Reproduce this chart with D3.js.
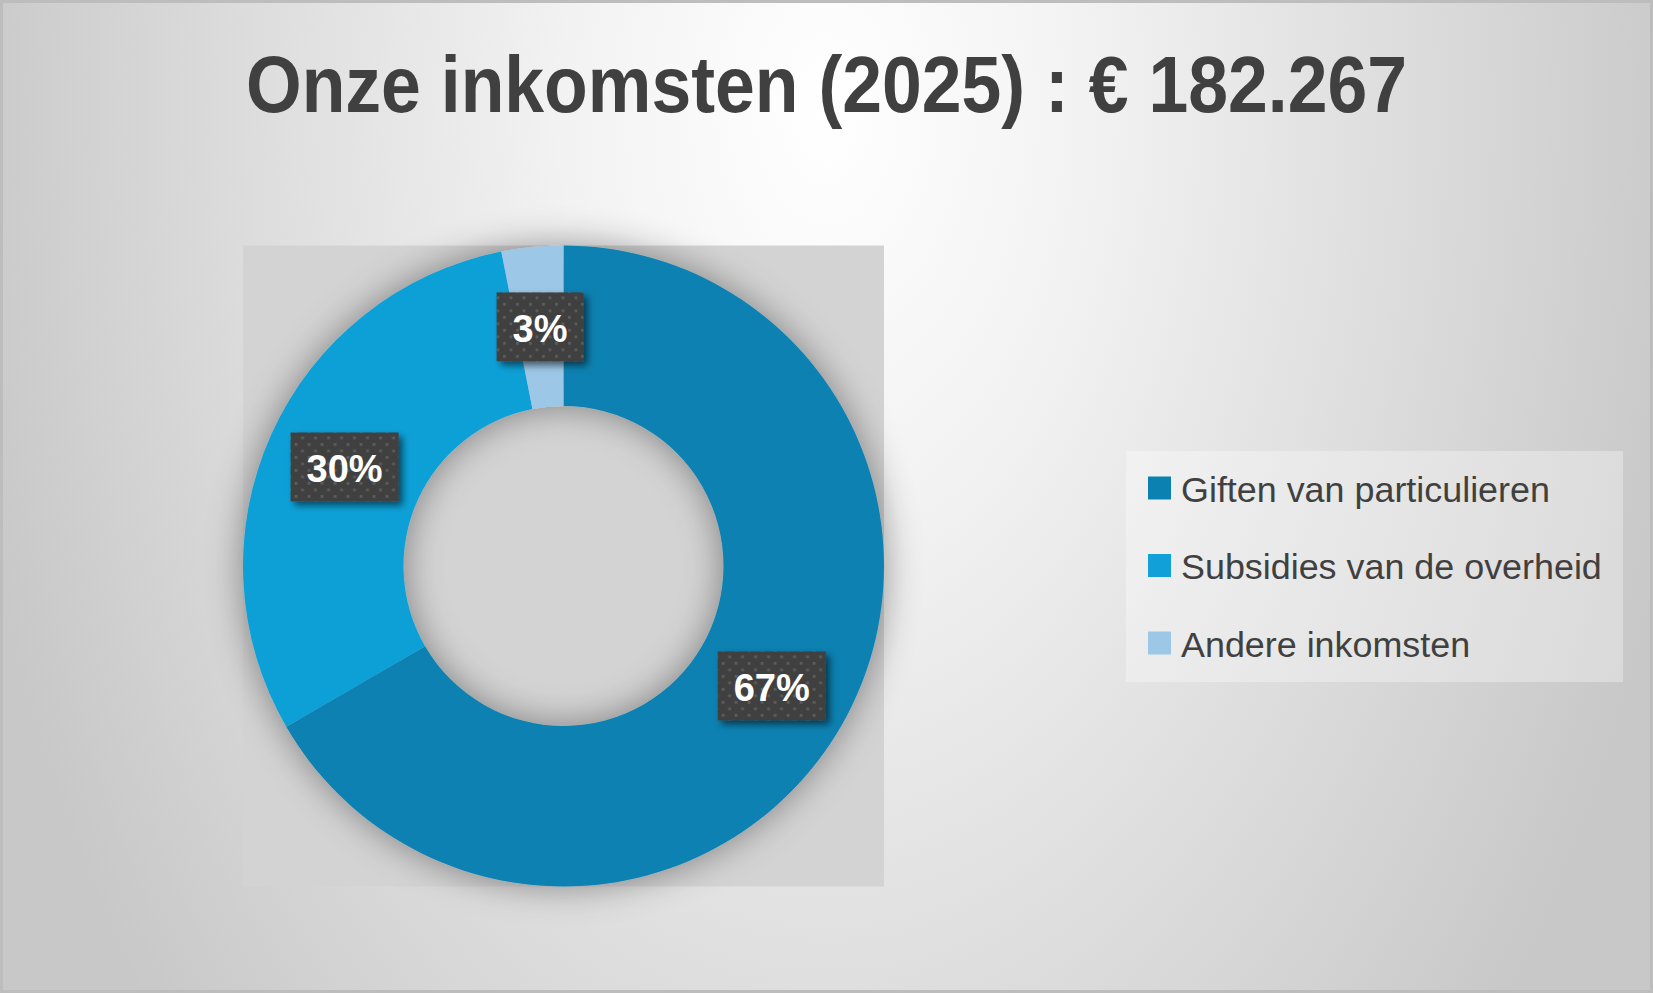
<!DOCTYPE html>
<html>
<head>
<meta charset="utf-8">
<script src="https://cdn.jsdelivr.net/npm/d3@7"></script>
<style>
    html, body { margin: 0; padding: 0; background: #ffffff; }
    svg { display: block; }
</style>
</head>
<body>
<div class="chart"></div>
<script>
const w = 1653;
const h = 993;

// data (total € 182.267)
const categories = ["Giften van particulieren", "Subsidies van de overheid", "Andere inkomsten"];
const amounts = [121450, 55150, 5667];
const colorsList = ["#0a81b1", "#11a0d7", "#9dc7e6"];
const title = "Onze inkomsten (2025) : € 182.267";

const cx = 563.5;
const cy = 566;
const outerR = 320.5;
const innerR = 160;

const svg = d3
    .select(".chart")
    .append("svg")
    .attr("width", w)
    .attr("height", h);

const defs = svg.append("defs");

// background: light at the top middle, grey at the sides and corners
const bg = defs
    .append("radialGradient")
    .attr("id", "bg")
    .attr("gradientUnits", "userSpaceOnUse")
    .attr("cx", 0)
    .attr("cy", 0)
    .attr("r", 880)
    .attr("gradientTransform", "translate(826,110) scale(1,1.6)");
bg.append("stop").attr("offset", "0").attr("stop-color", "#ffffff");
bg.append("stop").attr("offset", "0.3").attr("stop-color", "#f2f2f2");
bg.append("stop").attr("offset", "1").attr("stop-color", "#c8c8c8");

// soft shadow round the ring
const ringShadow = defs
    .append("filter")
    .attr("id", "ringShadow")
    .attr("x", "-30%")
    .attr("y", "-30%")
    .attr("width", "160%")
    .attr("height", "160%");
ringShadow.append("feGaussianBlur").attr("in", "SourceAlpha").attr("stdDeviation", 18).attr("result", "blur");
ringShadow.append("feFlood").attr("flood-color", "#000").attr("flood-opacity", 0.4).attr("result", "col");
ringShadow.append("feComposite").attr("in", "col").attr("in2", "blur").attr("operator", "in").attr("result", "sh");
const rm = ringShadow.append("feMerge");
rm.append("feMergeNode").attr("in", "sh");
rm.append("feMergeNode").attr("in", "SourceGraphic");

// shadow for the label boxes
const boxShadow = defs
    .append("filter")
    .attr("id", "boxShadow")
    .attr("x", "-30%")
    .attr("y", "-30%")
    .attr("width", "170%")
    .attr("height", "170%");
boxShadow.append("feGaussianBlur").attr("in", "SourceAlpha").attr("stdDeviation", 3.5).attr("result", "blur");
boxShadow.append("feOffset").attr("in", "blur").attr("dx", 4).attr("dy", 4).attr("result", "off");
boxShadow.append("feFlood").attr("flood-color", "#000").attr("flood-opacity", 0.55).attr("result", "col");
boxShadow.append("feComposite").attr("in", "col").attr("in2", "off").attr("operator", "in").attr("result", "sh");
const bm = boxShadow.append("feMerge");
bm.append("feMergeNode").attr("in", "sh");
bm.append("feMergeNode").attr("in", "SourceGraphic");

// dotted fill of the label boxes
const dots = defs
    .append("pattern")
    .attr("id", "dots")
    .attr("patternUnits", "userSpaceOnUse")
    .attr("width", 13)
    .attr("height", 13);
dots.append("rect").attr("width", 13).attr("height", 13).attr("fill", "#404040");
dots.append("rect").attr("x", 2).attr("y", 2).attr("width", 2.8).attr("height", 2.8).attr("fill", "#5c5c5c");
dots.append("rect").attr("x", 8.5).attr("y", 8.5).attr("width", 2.8).attr("height", 2.8).attr("fill", "#5c5c5c");

// chart area
svg.append("rect")
    .attr("x", 1.5)
    .attr("y", 1.5)
    .attr("width", w - 3)
    .attr("height", h - 3)
    .attr("fill", "url(#bg)")
    .attr("stroke", "#bdbdbd")
    .attr("stroke-width", 3);

// title
svg.append("text")
    .attr("x", w / 2)
    .attr("y", 112)
    .attr("text-anchor", "middle")
    .attr("font-family", "'Liberation Sans Narrow', 'Arial Narrow', 'Liberation Sans', Arial, sans-serif")
    .attr("font-weight", "bold")
    .attr("font-size", 79)
    .attr("fill", "#404040")
    .attr("textLength", 1161)
    .attr("lengthAdjust", "spacingAndGlyphs")
    .text(title);

// plot area
svg.append("rect")
    .attr("x", cx - outerR)
    .attr("y", cy - outerR)
    .attr("width", outerR * 2)
    .attr("height", outerR * 2)
    .attr("fill", "#d3d3d3");

const pie = d3.pie().sort(null).value((d) => d);
const arcs = pie(amounts);
const total = d3.sum(amounts);

const arc = d3.arc().innerRadius(innerR).outerRadius(outerR);

const color = d3.scaleOrdinal().domain(categories).range(colorsList);

const ring = svg
    .append("g")
    .attr("transform", `translate(${cx},${cy})`)
    .attr("filter", "url(#ringShadow)");

ring.selectAll("path")
    .data(arcs)
    .join("path")
    .attr("d", arc)
    .attr("fill", (d, i) => color(categories[i]));

// percentage labels in dark dotted boxes
const fmt = d3.format(".0%");
const labels = svg
    .append("g")
    .attr("transform", `translate(${cx},${cy})`)
    .selectAll("g")
    .data(arcs)
    .join("g")
    .attr("transform", (d) => `translate(${arc.centroid(d)})`);

labels.append("rect")
    .attr("fill", "url(#dots)")
    .attr("filter", "url(#boxShadow)");

const labelText = labels
    .append("text")
    .attr("text-anchor", "middle")
    .attr("y", 15)
    .attr("font-family", "'Liberation Sans', Arial, sans-serif")
    .attr("font-weight", "bold")
    .attr("font-size", 38)
    .attr("fill", "#ffffff")
    .text((d) => fmt(d.value / total));

labelText.each(function () {
    const tw = this.getComputedTextLength();
    d3.select(this.parentNode)
        .select("rect")
        .attr("x", -tw / 2 - 16)
        .attr("y", -34.5)
        .attr("width", tw + 32)
        .attr("height", 69);
});

// legend
const legend = svg.append("g").attr("transform", "translate(1126,451)");

legend
    .append("rect")
    .attr("width", 497)
    .attr("height", 231)
    .attr("fill", "#ffffff")
    .attr("fill-opacity", 0.32);

const rowY = d3.scalePoint().domain(categories).range([37, 192]);

const items = legend
    .selectAll("g")
    .data(categories)
    .join("g")
    .attr("transform", (d) => `translate(0,${rowY(d)})`);

items.append("rect")
    .attr("x", 22)
    .attr("y", -11.5)
    .attr("width", 23)
    .attr("height", 23)
    .attr("fill", (d) => color(d));

const legendText = items
    .append("text")
    .attr("x", 55)
    .attr("font-family", "'Liberation Sans', Arial, sans-serif")
    .attr("font-size", 36)
    .attr("fill", "#404040")
    .text((d) => d);

// fit the longest entry to the width seen in the picture
const longest = d3.max(legendText.nodes(), (n) => n.getComputedTextLength());
const fs = 36 * 421 / longest;
legendText.attr("font-size", fs).attr("y", fs * 0.716 / 2 + 1);
</script>
</body>
</html>
